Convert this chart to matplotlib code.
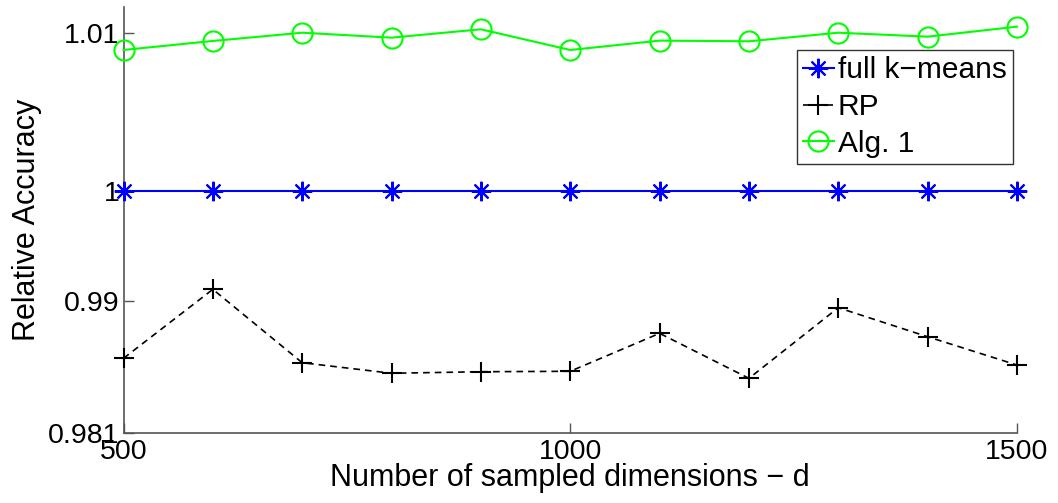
import matplotlib
matplotlib.use("Agg")
import matplotlib.pyplot as plt
from matplotlib.ticker import FixedLocator, FixedFormatter

plt.rcParams['font.family'] = ['Liberation Sans', 'DejaVu Sans']

d = [500, 600, 700, 800, 900, 1000, 1100, 1200, 1300, 1400, 1500]
full_kmeans = [1.0] * 11
rp = [0.98479, 0.99106, 0.98439, 0.98343, 0.98357, 0.98361,
      0.98706, 0.98297, 0.98939, 0.98675, 0.98418]
alg1 = [1.01282, 1.01364, 1.01439, 1.01394, 1.01470, 1.01282,
        1.01367, 1.01361, 1.01439, 1.01403, 1.01494]

ytick_pos = [0.978, 0.99, 1.0, 1.014336]
ytick_labels = ['0.981', '0.99', '1', '1.01']
xticks = [500, 1000, 1500]

W, H = 1058, 503
fig = plt.figure(figsize=(W / 100, H / 100), dpi=100)
ax = fig.add_axes([123.5 / W, 1 - 433 / H, (1017 - 123.5) / W, (433 - 7) / H])

ax.plot(d, full_kmeans, color=(0, 0, 1), lw=1.5, marker=(8, 2, 0), ms=14,
        mew=1.5, label='full k\u2212means', clip_on=False, zorder=3)
ax.plot(d, rp, color='k', lw=1.2, ls=(0, (4, 3)), marker='+', ms=15,
        mew=1.5, label='RP', clip_on=False, zorder=3)
ax.plot(d, alg1, color=(0, 1, 0), lw=1.5, marker='o', ms=14.5, mfc='none',
        mew=1.5, label='Alg. 1', clip_on=False, zorder=3)

ax.set_xlim(500, 1500)
ax.set_ylim(0.978, 1.016727)
ax.set_xticks(xticks)
ax.set_xticklabels([str(x) for x in xticks])
ax.yaxis.set_major_locator(FixedLocator(ytick_pos))
ax.yaxis.set_major_formatter(FixedFormatter(ytick_labels))

for s in ['top', 'right']:
    ax.spines[s].set_visible(False)
for s in ['left', 'bottom']:
    ax.spines[s].set_color('#555555')
    ax.spines[s].set_linewidth(1.2)

ax.tick_params(direction='in', length=7, width=1.0, color='#555555',
               labelsize=20.5, pad=3)
ax.tick_params(axis='x', pad=4)

ax.set_xlabel('Number of sampled dimensions \u2212 d', fontsize=22, labelpad=-1)
ax.set_ylabel('Relative Accuracy', fontsize=22, labelpad=4)

leg = ax.legend(loc='upper right', bbox_to_anchor=(0.995, 0.899),
                borderaxespad=0, fontsize=21.5, frameon=True, fancybox=False,
                handlelength=1.05, handletextpad=0.12, labelspacing=0.3,
                borderpad=0.2)
leg.get_frame().set_edgecolor('k')
leg.get_frame().set_linewidth(1.0)

fig.savefig('out.png', dpi=100)
